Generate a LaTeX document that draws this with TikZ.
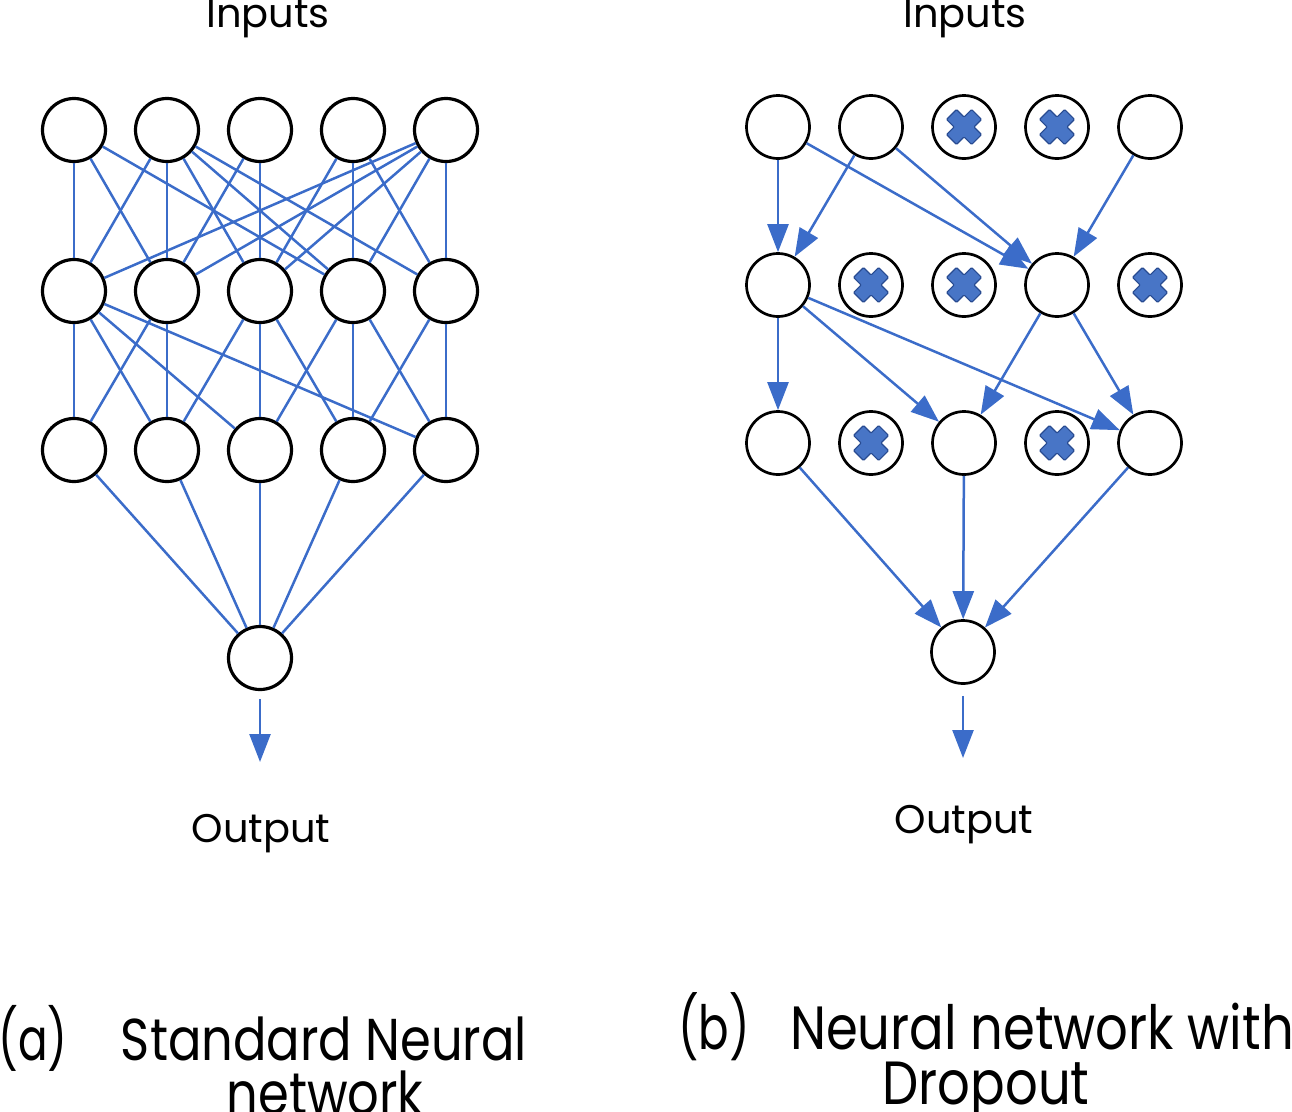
\documentclass[tikz,border=0pt]{standalone}
\usepackage{fontspec}
\setmainfont{Poppins}
\newfontfamily\capfont[FakeStretch=0.84]{Poppins}
\newfontfamily\tagfont[FakeStretch=0.74]{Poppins}
\usetikzlibrary{arrows.meta}
\definecolor{netblue}{RGB}{59,108,201}
\definecolor{xfill}{RGB}{72,117,198}
\definecolor{xedge}{RGB}{40,75,145}
\tikzstyle{open state}=[
    draw = black,
    line width = 2.7pt,
    fill = white,
    minimum size = 63pt,
    inner sep = 0pt,
    circle
]
\tikzstyle{drop state}=[
    open state,
    path picture = {\draw[xedge, fill = xfill, line width = 1.2pt, rounded corners = 1pt,
        shift = {(path picture bounding box.center)}]
        (-7.6,17.5) -- (0,9.9) -- (7.6,17.5) -- (17.5,7.6) -- (9.9,0) -- (17.5,-7.6) -- (7.6,-17.5)
        -- (0,-9.9) -- (-7.6,-17.5) -- (-17.5,-7.6) -- (-9.9,0) -- (-17.5,7.6) -- cycle;}
]

\begin{document}
\begin{tikzpicture}[x=1pt, y=-1pt, node distance={93pt},
    main/.style = {draw, circle, line width=3.2pt, minimum size=63pt, inner sep=0pt},
    link/.style = {draw=netblue, line width=2.5pt},
    arrow/.style = {link, -{Triangle[length=28pt, width=21pt]}},
    txt/.style = {font=\fontsize{40}{48}\selectfont, inner sep=0pt, anchor=base},
    captxt/.style = {font=\capfont\fontsize{59}{66}\selectfont, inner sep=0pt, anchor=base}]
        \useasboundingbox (0,0) rectangle (1292,1111);

        % (a) standard network
        \node[main] (i1) at (74,130) {};
        \node[main] (i2) [right of = i1] {};
        \node[main] (i3) [right of = i2] {};
        \node[main] (i4) [right of = i3] {};
        \node[main] (i5) [right of = i4] {};
        \node[main] (h1) at (74,291) {};
        \node[main] (h2) [right of = h1] {};
        \node[main] (h3) [right of = h2] {};
        \node[main] (h4) [right of = h3] {};
        \node[main] (h5) [right of = h4] {};
        \node[main] (g1) at (74,450) {};
        \node[main] (g2) [right of = g1] {};
        \node[main] (g3) [right of = g2] {};
        \node[main] (g4) [right of = g3] {};
        \node[main] (g5) [right of = g4] {};
        \node[main] (y) at (260,658) {};
        \coordinate (yend) at (260,762);

        \draw[link] (i1) -- (h1);
        \draw[link] (i1) -- (h2);
        \draw[link] (i1) -- (h4);
        \draw[link] (i2) -- (h1);
        \draw[link] (i2) -- (h2);
        \draw[link] (i2) -- (h3);
        \draw[link] (i2) -- (h4);
        \draw[link] (i2) -- (h5);
        \draw[link] (i3) -- (h2);
        \draw[link] (i3) -- (h3);
        \draw[link] (i4) -- (h3);
        \draw[link] (i4) -- (h4);
        \draw[link] (i4) -- (h5);
        \draw[link] (i5) -- (h1);
        \draw[link] (i5) -- (h2);
        \draw[link] (i5) -- (h3);
        \draw[link] (i5) -- (h4);
        \draw[link] (i5) -- (h5);

        \draw[link] (h1) -- (g1);
        \draw[link] (h1) -- (g2);
        \draw[link] (h1) -- (g3);
        \draw[link] (h1) -- (g5);
        \draw[link] (h2) -- (g1);
        \draw[link] (h2) -- (g2);
        \draw[link] (h3) -- (g2);
        \draw[link] (h3) -- (g3);
        \draw[link] (h3) -- (g4);
        \draw[link] (h4) -- (g3);
        \draw[link] (h4) -- (g4);
        \draw[link] (h4) -- (g5);
        \draw[link] (h5) -- (g4);
        \draw[link] (h5) -- (g5);

        \draw[link] (g1) -- (y);
        \draw[link] (g2) -- (y);
        \draw[link] (g3) -- (y);
        \draw[link] (g4) -- (y);
        \draw[link] (g5) -- (y);
        \draw[arrow, shorten <=8pt] (y) -- (yend);

        % (b) with dropout
        \node[open state] (di1) at (778,127) {};
        \node[open state] (di2) [right of = di1] {};
        \node[drop state] (di3) [right of = di2] {};
        \node[drop state] (di4) [right of = di3] {};
        \node[open state] (di5) [right of = di4] {};
        \node[open state] (dh1) at (778,285) {};
        \node[drop state] (dh2) [right of = dh1] {};
        \node[drop state] (dh3) [right of = dh2] {};
        \node[open state] (dh4) [right of = dh3] {};
        \node[drop state] (dh5) [right of = dh4] {};
        \node[open state] (dg1) at (778,443) {};
        \node[drop state] (dg2) [right of = dg1] {};
        \node[open state] (dg3) [right of = dg2] {};
        \node[drop state] (dg4) [right of = dg3] {};
        \node[open state] (dg5) [right of = dg4] {};
        \node[open state] (dy) at (963,652) {};
        \coordinate (dyend) at (963,758);

        \draw[arrow] (di1) -- (dh1);
        \draw[arrow] (di1) -- (dh4);
        \draw[arrow] (di2) -- (dh1);
        \draw[arrow] (di2) -- (dh4);
        \draw[arrow] (di5) -- (dh4);
        \draw[arrow] (dh1) -- (dg1);
        \draw[arrow] (dh1) -- (dg3);
        \draw[arrow] (dh1) -- (dg5);
        \draw[arrow] (dh4) -- (dg3);
        \draw[arrow] (dh4) -- (dg5);
        \draw[arrow] (dg1) -- (dy);
        \draw[arrow] (dg3) -- (dy);
        \draw[arrow] (dg5) -- (dy);
        \draw[arrow, shorten <=11pt] (dy) -- (dyend);

        % labels
        \node[txt] (inl) at (268,27) {Inputs};
        \node[txt] (inr) at (965,27) {Inputs};
        \node[txt] (outl) at (261,842) {Output};
        \node[txt] (outr) at (964,833) {Output};
        \node[captxt, anchor=base west, font=\tagfont\fontsize{59}{66}\selectfont] (capa) at (-2,1060) {(a)};
        \node[captxt] (capa1) at (324,1060) {Standard Neural};
        \node[captxt] (capa2) at (325,1114) {network};
        \node[captxt, anchor=base west, font=\tagfont\fontsize{61}{66}\selectfont] (capb) at (678,1049) {(b)};
        \node[captxt, font=\capfont\fontsize{61}{66}\selectfont] (capb1) at (1042,1049) {Neural network with};
        \node[captxt, font=\capfont\fontsize{61}{66}\selectfont] (capb2) at (986,1104) {Dropout};

    \end{tikzpicture}
\end{document}
